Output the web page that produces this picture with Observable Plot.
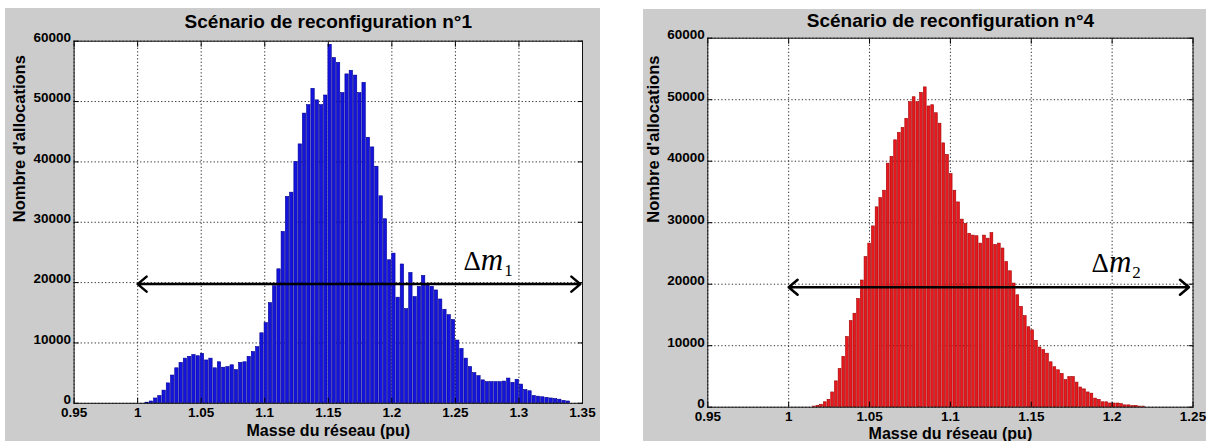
<!DOCTYPE html>
<html><head><meta charset="utf-8">
<script src="https://cdn.jsdelivr.net/npm/d3@7"></script>
<script src="https://cdn.jsdelivr.net/npm/@observablehq/plot@0.6"></script>
<style>
html,body{margin:0;padding:0;background:#fff;width:1206px;height:441px;overflow:hidden;position:relative}
.panel{position:absolute;background:#cccccc;overflow:hidden}
.panel svg{display:block;background:transparent}
</style></head><body>
<div id="p1" class="panel" style="left:5px;top:8px;width:595px;height:433px"></div>
<div id="p2" class="panel" style="left:643px;top:9px;width:563px;height:432px"></div>
<script>
// ---- Data ----
const title1 = "Scénario de reconfiguration n°1";
const title2 = "Scénario de reconfiguration n°4";
const xAxisLabel = "Masse du réseau (pu)";
const yAxisLabel = "Nombre d'allocations";

const xTicks1 = [0.95, 1, 1.05, 1.1, 1.15, 1.2, 1.25, 1.3, 1.35];
const xTickLabels1 = ["0.95", "1", "1.05", "1.1", "1.15", "1.2", "1.25", "1.3", "1.35"];
const xTicks2 = [0.95, 1, 1.05, 1.1, 1.15, 1.2, 1.25];
const xTickLabels2 = ["0.95", "1", "1.05", "1.1", "1.15", "1.2", "1.25"];
const yTicks = [0, 10000, 20000, 30000, 40000, 50000, 60000];
const yTickLabels = ["0", "10000", "20000", "30000", "40000", "50000", "60000"];

// Scenario 1 histogram: first bin edge, bin width, counts
const binStart1 = 1.0058;
const binWidth1 = 0.003347;
const counts1 = [100, 300, 800, 1200, 2100, 3300, 4600, 5800, 6700, 7400,
  7700, 8000, 7800, 8200, 7100, 7400, 5800, 6800, 5900, 6000,
  6300, 5500, 6700, 6800, 7700, 8500, 9300, 11600, 13300, 16600,
  19400, 22200, 28400, 34200, 34900, 40000, 42900, 48000, 49400, 52100,
  50200, 49400, 51000, 59400, 57200, 56400, 51400, 54500, 55100, 54300,
  51400, 53100, 44000, 42400, 39200, 34300, 30500, 23700, 24800, 17500,
  23000, 15600, 21600, 17600, 19300, 21100, 19500, 19300, 18700, 17200,
  15500, 14600, 13800, 10400, 9000, 7400, 6000, 5000, 4500, 3800,
  3500, 3500, 3500, 3500, 3600, 4100, 3400, 3900, 3100, 2200,
  2000, 1200, 1100, 1000, 900, 800, 700, 600, 400, 300];

// Scenario 4 histogram
const binStart2 = 1.0146;
const binWidth2 = 0.00229;
const counts2 = [100, 200, 400, 800, 1200, 2400, 4200, 6200, 8200, 11400,
  14000, 15200, 17600, 20600, 24400, 26600, 29400, 32500, 34000, 35200,
  39600, 40700, 43400, 44600, 45400, 46900, 49600, 50400, 49600, 51100,
  52000, 48900, 49100, 47800, 46100, 42900, 41000, 37900, 35200, 33300,
  30500, 29800, 28200, 27900, 27800, 26600, 27900, 27400, 28300, 26400,
  26600, 25800, 23600, 22100, 20100, 18200, 16300, 14800, 13000, 12500,
  10800, 9700, 9300, 8700, 7300, 6500, 6000, 5400, 4400, 4900,
  4900, 4000, 3200, 2900, 2400, 2200, 1400, 1200, 800, 800,
  600, 600, 600, 500, 300, 300, 200, 200, 100, 100];

// Δm annotations: arrow span [x start, x end], arrow level, label anchor
const arrowSpan1 = [1.0, 1.3483];
const arrowLevel1 = 19750;
const dmLabel1 = {x: 1.2563, y: 22050, base: "Δ", ital: "m", sub: "1"};
const arrowSpan2 = [1.0, 1.2475];
const arrowLevel2 = 19500;
const dmLabel2 = {x: 1.1873, y: 21950, base: "Δ", ital: "m", sub: "2"};

// ---- Drawing ----
const FONT = "'Liberation Sans', Arial, sans-serif";
const SERIF = "'Liberation Serif', 'Times New Roman', serif";

function panel(o) {
  const bins = o.counts.map((c, i) => ({x1: o.start + i * o.bw, x2: o.start + (i + 1) * o.bw, y: c}));
  const mid = (o.span[0] + o.span[1]) / 2;
  const arrows = [{x1: mid, x2: o.span[0]}, {x1: mid, x2: o.span[1]}];
  const fmtX = d => o.xLabels[o.xTicks.indexOf(d)];
  const fmtY = d => yTickLabels[yTicks.indexOf(d)];
  const svg = Plot.plot({
    width: o.width, height: o.height,
    marginLeft: o.m[0], marginRight: o.m[1], marginTop: o.m[2], marginBottom: o.m[3],
    style: {background: "transparent", fontFamily: FONT, color: "#000", overflow: "visible"},
    x: {domain: o.xDomain, label: null},
    y: {domain: [0, 60000], label: null},
    marks: [
      Plot.frame({fill: "white", stroke: null}),
      Plot.gridX(o.xTicks, {stroke: "#333", strokeOpacity: 1, strokeDasharray: "1.3,2.2", strokeWidth: 1}),
      Plot.gridY(yTicks, {stroke: "#333", strokeOpacity: 1, strokeDasharray: "1.3,2.2", strokeWidth: 1}),
      Plot.rectY(bins, {x1: "x1", x2: "x2", y: "y", fill: o.fill, stroke: o.stroke, strokeWidth: 0.6, insetLeft: 0.45, insetRight: 0.45}),
      Plot.axisX(o.xTicks, {anchor: "bottom", tickSize: -5, tickFormat: () => "", label: null}),
      Plot.axisX(o.xTicks, {anchor: "top", tickSize: -5, tickFormat: () => "", label: null}),
      Plot.axisY(yTicks, {anchor: "left", tickSize: -5, tickFormat: () => "", label: null}),
      Plot.axisY(yTicks, {anchor: "right", tickSize: -5, tickFormat: () => "", label: null}),
      Plot.axisX(o.xTicks, {anchor: "bottom", tickSize: 0, tickPadding: 4, tickFormat: fmtX, label: null, fontSize: 13.5, fontWeight: "bold"}),
      Plot.axisY(yTicks, {anchor: "left", tickSize: 0, tickPadding: 3, tickFormat: fmtY, label: null, fontSize: 13.5, fontWeight: "bold", dy: -3.5}),
      Plot.frame({stroke: "#111", strokeWidth: 1}),
      Plot.arrow(arrows, {x1: "x1", x2: "x2", y1: o.level, y2: o.level, stroke: "black", strokeWidth: 2.5, headLength: 7, headAngle: 80}),
      Plot.text([o.dm], {x: "x", y: "y", text: d => d.base + d.ital + d.sub, textAnchor: "start", lineAnchor: "bottom", fontSize: 27, fontFamily: SERIF, fill: "black", className: "dm"}),
      Plot.text([o.title], {text: d => d, frameAnchor: "top", dy: o.titleDy, lineAnchor: "middle", fontSize: 19, fontWeight: "bold", fill: "black"}),
      Plot.text([yAxisLabel], {text: d => d, frameAnchor: "left", rotate: -90, dx: o.ylabDx, lineAnchor: "middle", fontSize: 16.5, fontWeight: "bold", fill: "black"}),
      Plot.text([xAxisLabel], {text: d => d, frameAnchor: "bottom", dy: o.xlabDy, lineAnchor: "middle", fontSize: 16, fontWeight: "bold", fill: "black"})
    ]
  });
  // rich text for Δm with italic m and subscript index
  svg.querySelectorAll("g.dm text").forEach(t => {
    const d = o.dm;
    t.textContent = "";
    const a = document.createElementNS("http://www.w3.org/2000/svg", "tspan");
    a.textContent = d.base; t.appendChild(a);
    const b = document.createElementNS("http://www.w3.org/2000/svg", "tspan");
    b.textContent = d.ital; b.setAttribute("font-style", "italic"); b.setAttribute("font-size", "31"); t.appendChild(b);
    const c = document.createElementNS("http://www.w3.org/2000/svg", "tspan");
    c.textContent = d.sub; c.setAttribute("font-size", "17"); c.setAttribute("dy", "6"); c.setAttribute("dx", "1"); t.appendChild(c);
  });
  document.getElementById(o.el).appendChild(svg);
}

panel({el: "p1", width: 595, height: 433, m: [68.6, 18, 32.7, 38.2],
  xDomain: [0.95, 1.35], xTicks: xTicks1, xLabels: xTickLabels1,
  counts: counts1, start: binStart1, bw: binWidth1, fill: "#1414dc", stroke: "#000090",
  span: arrowSpan1, level: arrowLevel1, dm: dmLabel1, title: title1,
  titleDy: -19, ylabDx: -54, xlabDy: 28});

panel({el: "p2", width: 563, height: 432, m: [64.3, 13.5, 28.7, 34.3],
  xDomain: [0.95, 1.25], xTicks: xTicks2, xLabels: xTickLabels2,
  counts: counts2, start: binStart2, bw: binWidth2, fill: "#e8191e", stroke: "#a00000",
  span: arrowSpan2, level: arrowLevel2, dm: dmLabel2, title: title2,
  titleDy: -17.5, ylabDx: -54, xlabDy: 27});
</script>
</body></html>
